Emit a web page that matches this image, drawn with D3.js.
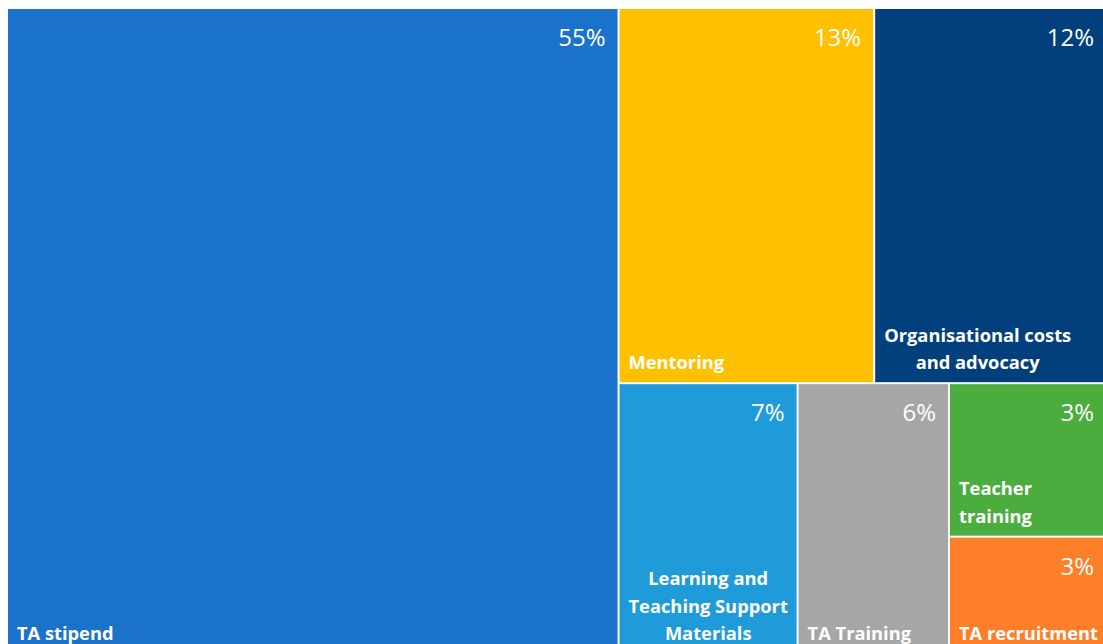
<!DOCTYPE html>
<html>
<head>
<meta charset="utf-8">
<script src="https://cdn.jsdelivr.net/npm/d3@7"></script>
<style>
  body { margin: 0; background: #ffffff; overflow: hidden; }
  svg { display: block; }
</style>
</head>
<body>
<div class="chart"></div>
<script>
// budget shares (cell areas; labels are rounded)
var categories = ['TA stipend', 'Mentoring', 'Organisational costs|and advocacy',
  'Learning and|Teaching Support|Materials', 'TA Training', 'Teacher|training', 'TA recruitment'];
var values = [55.4, 13.45, 12.25, 6.8, 5.75, 3.4, 2.6];
var colors = ['#1a72cb', '#ffc000', '#023f7d', '#1e9bd8', '#a6a6a6', '#4aad3e', '#fe7f27'];

drawTreemap('.chart');

function drawTreemap(element) {
  var WIDTH = 1103;
  var HEIGHT = 644;
  var BOX = { x0: 8, y0: 9, x1: 1106, y1: 653 };

  var leaf = function (i) { return { name: categories[i], value: values[i], color: colors[i] }; };

  // rows / columns of the layout
  var data = {
    name: 'root',
    children: [
      leaf(0),
      { name: 'right', children: [
        { name: 'top', children: [leaf(1), leaf(2)] },
        { name: 'bottom', children: [leaf(3), leaf(4),
          { name: 'small', children: [leaf(5), leaf(6)] }] }
      ] }
    ]
  };

  var root = d3.hierarchy(data)
    .sum(function (d) { return d.value || 0; });

  d3.treemap()
    .tile(d3.treemapSliceDice)
    .size([BOX.x1 - BOX.x0, BOX.y1 - BOX.y0])
    .paddingInner(2)
    .round(false)(root);

  var svg = d3.select(element)
    .append('svg')
      .attr('width', WIDTH)
      .attr('height', HEIGHT)
    .append('g')
      .attr('transform', 'translate(' + BOX.x0 + ',' + BOX.y0 + ')');

  var cell = svg.selectAll('g.cell')
    .data(root.leaves())
    .enter().append('g')
      .attr('class', 'cell');

  cell.append('rect')
    .attr('x', function (d) { return d.x0; })
    .attr('y', function (d) { return d.y0; })
    .attr('width', function (d) { return d.x1 - d.x0; })
    .attr('height', function (d) { return d.y1 - d.y0; })
    .attr('fill', function (d) { return d.data.color; });

  // percentage, top right
  cell.append('text')
    .attr('x', function (d) { return d.x1 - 12; })
    .attr('y', function (d) { return d.y0 + 37; })
    .attr('text-anchor', 'end')
    .attr('fill', '#ffffff')
    .style('font-family', '"Open Sans", sans-serif')
    .style('font-size', '24px')
    .text(function (d) { return Math.round(d.value) + '%'; });

  // category name, bottom left, lines centred on each other
  cell.each(function (d) {
    var g = d3.select(this);
    var lines = d.data.name.split('|');
    var LINE = 27.5;
    var label = g.append('text')
      .attr('fill', '#ffffff')
      .style('font-family', '"Open Sans", sans-serif')
      .style('font-weight', 'bold')
      .style('font-size', '18.3px');

    var spans = label.selectAll('tspan')
      .data(lines)
      .enter().append('tspan')
        .attr('y', function (l, i) { return d.y1 - 13 - (lines.length - 1 - i) * LINE; })
        .text(function (l) { return l; });

    var widths = [];
    spans.each(function () { widths.push(this.getComputedTextLength()); });
    var maxW = d3.max(widths);

    spans
      .attr('x', d.x0 + 9 + maxW / 2)
      .attr('text-anchor', 'middle');
  });
}
</script>
</body>
</html>
